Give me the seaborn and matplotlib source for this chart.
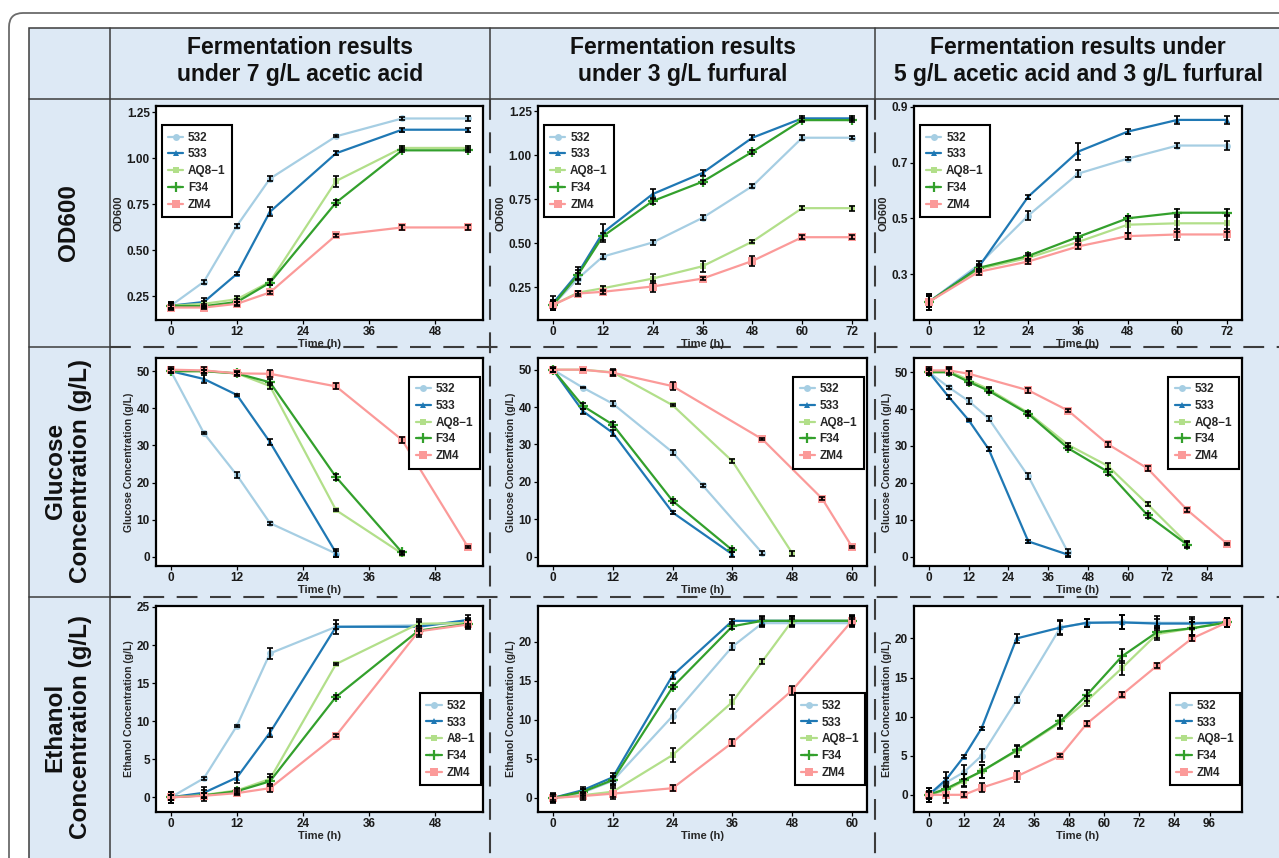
import matplotlib
matplotlib.use("Agg")
import matplotlib.pyplot as plt
import seaborn as sns
import pandas as pd
from matplotlib.patches import Rectangle, FancyBboxPatch
from matplotlib.lines import Line2D
from matplotlib.ticker import FormatStrFormatter

W, H = 1279, 858

STRAINS = ["532", "533", "AQ8-1", "F34", "ZM4"]
COLORS = ["#a6cee3", "#1f78b4", "#b2df8a", "#33a02c", "#fb9a99"]
MARKERS = ["o", "^", "s", "P", "s"]
LEGEND_LABELS = ["532", "533", "AQ8\u22121", "F34", "ZM4"]
LEGEND_LABELS_A8 = ["532", "533", "A8\u22121", "F34", "ZM4"]

COL_TITLES = ["Fermentation results\nunder 7 g/L acetic acid",
              "Fermentation results\nunder 3 g/L furfural",
              "Fermentation results under\n5 g/L acetic acid and 3 g/L furfural"]
ROW_TITLES = ["OD600", "Glucose\nConcentration (g/L)", "Ethanol\nConcentration (g/L)"]

# ---- OD600 ----
od_acetic_t = [0, 6, 12, 18, 30, 42, 54]
od_acetic = {"532": [0.20, 0.33, 0.634, 0.89, 1.12, 1.217, 1.217],
             "533": [0.20, 0.22, 0.373, 0.71, 1.028, 1.156, 1.156],
             "AQ8-1": [0.20, 0.21, 0.235, 0.33, 0.877, 1.057, 1.057],
             "F34": [0.20, 0.197, 0.22, 0.325, 0.76, 1.044, 1.044],
             "ZM4": [0.19, 0.19, 0.21, 0.272, 0.583, 0.625, 0.625]}
od_acetic_err = {"532": [0.02, 0.012, 0.012, 0.012, 0.006, 0.01, 0.015],
                 "533": [0.02, 0.02, 0.008, 0.025, 0.01, 0.012, 0.012],
                 "AQ8-1": [0.015, 0.015, 0.015, 0.015, 0.03, 0.012, 0.01],
                 "F34": [0.015, 0.01, 0.015, 0.012, 0.012, 0.01, 0.01],
                 "ZM4": [0.015, 0.01, 0.012, 0.01, 0.008, 0.015, 0.015]}

od_furfural_t = [0, 6, 12, 24, 36, 48, 60, 72]
od_furfural = {"532": [0.15, 0.30, 0.425, 0.505, 0.645, 0.825, 1.10, 1.10],
               "533": [0.16, 0.33, 0.56, 0.78, 0.90, 1.10, 1.21, 1.21],
               "AQ8-1": [0.15, 0.22, 0.245, 0.30, 0.37, 0.51, 0.70, 0.70],
               "F34": [0.15, 0.32, 0.54, 0.74, 0.85, 1.02, 1.20, 1.20],
               "ZM4": [0.15, 0.215, 0.225, 0.255, 0.30, 0.40, 0.535, 0.535]}
od_furfural_err = {"532": [0.03, 0.03, 0.015, 0.015, 0.015, 0.01, 0.015, 0.01],
                   "533": [0.04, 0.035, 0.05, 0.03, 0.015, 0.015, 0.015, 0.012],
                   "AQ8-1": [0.02, 0.01, 0.015, 0.025, 0.03, 0.01, 0.012, 0.015],
                   "F34": [0.03, 0.03, 0.02, 0.015, 0.01, 0.012, 0.012, 0.01],
                   "ZM4": [0.02, 0.015, 0.01, 0.03, 0.01, 0.03, 0.01, 0.01]}

od_mixed_t = [0, 12, 24, 36, 48, 60, 72]
od_mixed = {"532": [0.20, 0.333, 0.51, 0.66, 0.714, 0.761, 0.761],
            "533": [0.20, 0.325, 0.578, 0.739, 0.811, 0.853, 0.853],
            "AQ8-1": [0.20, 0.318, 0.358, 0.415, 0.477, 0.482, 0.482],
            "F34": [0.20, 0.322, 0.365, 0.433, 0.50, 0.52, 0.52],
            "ZM4": [0.20, 0.308, 0.345, 0.399, 0.436, 0.442, 0.442]}
od_mixed_err = {"532": [0.03, 0.015, 0.015, 0.013, 0.006, 0.01, 0.015],
                "533": [0.02, 0.01, 0.007, 0.03, 0.01, 0.015, 0.015],
                "AQ8-1": [0.02, 0.01, 0.01, 0.01, 0.03, 0.03, 0.03],
                "F34": [0.02, 0.01, 0.01, 0.015, 0.01, 0.015, 0.012],
                "ZM4": [0.03, 0.01, 0.01, 0.01, 0.01, 0.02, 0.02]}

# ---- glucose ----
glu_acetic_t = {"532": [0, 6, 12, 18, 30], "533": [0, 6, 12, 18, 30],
                "AQ8-1": [0, 6, 12, 18, 30, 42], "F34": [0, 6, 12, 18, 30, 42],
                "ZM4": [0, 6, 12, 18, 30, 42, 54]}
glu_acetic = {"532": [50, 33.3, 22.0, 9.1, 0.9],
              "533": [50, 47.9, 43.6, 30.9, 1.1],
              "AQ8-1": [50, 50, 49.4, 46.0, 12.6, 0.9],
              "F34": [50, 50, 49.4, 47.0, 21.5, 1.2],
              "ZM4": [50.4, 50.2, 49.4, 49.3, 45.9, 31.5, 2.6]}
glu_acetic_err = {"532": [0.5, 0.3, 0.8, 0.4, 0.8],
                  "533": [0.5, 1.0, 0.3, 0.8, 1.0],
                  "AQ8-1": [0.5, 0.4, 0.5, 0.8, 0.2, 0.4],
                  "F34": [0.5, 0.4, 0.5, 0.8, 0.7, 0.4],
                  "ZM4": [0.6, 0.8, 0.7, 0.9, 0.8, 0.9, 0.3]}

glu_furfural_t = {"532": [0, 6, 12, 24, 30, 42], "533": [0, 6, 12, 24, 36],
                  "AQ8-1": [0, 6, 12, 24, 36, 48], "F34": [0, 6, 12, 24, 36],
                  "ZM4": [0, 6, 12, 24, 42, 54, 60]}
glu_furfural = {"532": [50, 45.2, 40.9, 27.9, 19.1, 0.9],
                "533": [50, 38.9, 33.1, 11.8, 0.6],
                "AQ8-1": [50, 50, 49.3, 40.5, 25.5, 0.9],
                "F34": [50, 40.3, 35.3, 14.9, 1.7],
                "ZM4": [50, 50, 49.2, 45.6, 31.4, 15.5, 2.6]}
glu_furfural_err = {"532": [0.5, 0.2, 0.7, 0.7, 0.4, 0.5],
                    "533": [0.5, 0.7, 0.8, 0.3, 0.6],
                    "AQ8-1": [0.5, 0.2, 0.8, 0.2, 0.6, 0.7],
                    "F34": [0.5, 0.7, 0.6, 0.6, 0.6],
                    "ZM4": [0.6, 0.2, 0.8, 1.0, 0.2, 0.5, 0.3]}

glu_mixed_t = {"532": [0, 6, 12, 18, 30, 42], "533": [0, 6, 12, 18, 30, 42],
               "AQ8-1": [0, 6, 12, 18, 30, 42, 54, 66, 78],
               "F34": [0, 6, 12, 18, 30, 42, 54, 66, 78],
               "ZM4": [0, 6, 12, 30, 42, 54, 66, 78, 90]}
glu_mixed = {"532": [50, 45.9, 42.2, 37.5, 21.8, 1.1],
             "533": [50, 43.3, 37.0, 29.2, 4.1, 0.5],
             "AQ8-1": [50, 50.3, 47.9, 45.4, 39.0, 30.3, 24.6, 14.2, 3.5],
             "F34": [50, 50, 47.4, 45.0, 38.7, 29.4, 23.0, 11.2, 3.2],
             "ZM4": [50.5, 50.5, 49.6, 45.1, 39.6, 30.5, 23.9, 12.6, 3.5]}
glu_mixed_err = {"532": [0.5, 0.4, 0.7, 0.7, 0.8, 1.0],
                 "533": [0.5, 0.5, 0.3, 0.6, 0.5, 0.5],
                 "AQ8-1": [0.8, 0.8, 0.8, 0.7, 0.5, 0.6, 0.8, 0.6, 0.8],
                 "F34": [0.8, 0.8, 0.9, 0.7, 0.5, 0.6, 0.8, 0.7, 0.8],
                 "ZM4": [0.8, 0.8, 0.8, 0.7, 0.5, 0.7, 0.7, 0.6, 0.3]}

# ---- ethanol ----
eth_acetic_t = [0, 6, 12, 18, 30, 45, 54]
eth_acetic = {"532": [0, 2.5, 9.4, 18.9, 22.4, 22.6, 23.0],
              "533": [0, 0.6, 2.6, 8.5, 22.4, 22.4, 23.3],
              "AQ8-1": [0, 0.3, 0.9, 2.4, 17.5, 22.8, 22.9],
              "F34": [0, 0.25, 0.8, 2.1, 13.2, 21.9, 22.8],
              "ZM4": [0, 0.2, 0.55, 1.2, 8.1, 21.8, 22.7]}
eth_acetic_err = {"532": [0.3, 0.2, 0.1, 0.7, 0.3, 0.5, 0.5],
                  "533": [0.7, 0.7, 0.7, 0.6, 0.9, 0.6, 0.6],
                  "AQ8-1": [0.3, 0.3, 0.3, 0.6, 0.15, 0.6, 0.5],
                  "F34": [0.3, 0.3, 0.3, 0.6, 0.3, 0.6, 0.5],
                  "ZM4": [0.7, 0.7, 0.3, 0.5, 0.2, 0.7, 0.6]}

eth_furfural_t = {"532": [0, 6, 12, 24, 36, 42, 48, 60],
                  "533": [0, 6, 12, 24, 36, 42, 48, 60],
                  "AQ8-1": [0, 6, 12, 24, 36, 42, 48, 60],
                  "F34": [0, 6, 12, 24, 36, 42, 48, 60],
                  "ZM4": [0, 6, 12, 24, 36, 48, 60]}
eth_furfural = {"532": [0, 0.7, 2.2, 10.5, 19.4, 22.4, 22.4, 22.4],
                "533": [0, 1.0, 2.65, 15.7, 22.7, 22.7, 22.7, 22.7],
                "AQ8-1": [0, 0.35, 0.8, 5.5, 12.3, 17.5, 22.7, 22.7],
                "F34": [0, 0.8, 2.3, 14.2, 22.0, 22.7, 22.7, 22.7],
                "ZM4": [0, 0.25, 0.55, 1.25, 7.1, 13.8, 22.7]}
eth_furfural_err = {"532": [0.5, 0.4, 0.5, 0.9, 0.4, 0.5, 0.5, 0.5],
                    "533": [0.5, 0.4, 0.5, 0.5, 0.2, 0.5, 0.5, 0.5],
                    "AQ8-1": [0.3, 0.3, 0.7, 0.9, 0.9, 0.3, 0.6, 0.6],
                    "F34": [0.5, 0.4, 0.5, 0.3, 0.3, 0.6, 0.6, 0.6],
                    "ZM4": [0.6, 0.5, 0.7, 0.4, 0.5, 0.6, 0.7]}

eth_mixed_t = [0, 6, 12, 18, 30, 45, 54, 66, 78, 90, 102]
eth_mixed = {"532": [0, 1.6, 2.9, 5.0, 12.1, 21.4, 22.0, 22.05, 22.0, 22.0, 22.05],
             "533": [0, 2.0, 4.9, 8.5, 20.0, 21.4, 22.0, 22.05, 21.9, 21.9, 22.05],
             "AQ8-1": [0, 0.6, 1.8, 3.0, 5.6, 9.25, 12.0, 16.2, 20.55, 21.3, 22.05],
             "F34": [0, 0.8, 1.9, 3.0, 5.7, 9.4, 12.75, 17.7, 20.8, 21.3, 22.05],
             "ZM4": [0, 0, 0, 0.9, 2.35, 5.0, 9.1, 12.8, 16.5, 20.0, 22.05]}
eth_mixed_err = {"532": [0.9, 0.5, 0.9, 0.8, 0.4, 0.9, 0.5, 0.9, 0.9, 0.8, 0.6],
                 "533": [0.9, 0.9, 0.2, 0.2, 0.6, 0.8, 0.5, 0.9, 0.6, 0.6, 0.6],
                 "AQ8-1": [0.5, 0.8, 0.8, 0.8, 0.7, 0.8, 0.7, 0.9, 0.8, 0.8, 0.6],
                 "F34": [0.5, 0.8, 0.8, 0.8, 0.7, 0.8, 0.7, 0.9, 0.8, 0.8, 0.6],
                 "ZM4": [0.4, 1.0, 0.3, 0.6, 0.7, 0.2, 0.3, 0.3, 0.3, 0.3, 0.6]}


def long_df(times, vals, errs):
    rows = []
    for s in STRAINS:
        t = times[s] if isinstance(times, dict) else times
        for ti, v, e in zip(t, vals[s], errs[s]):
            rows.append((s, ti, v, e))
    return pd.DataFrame(rows, columns=["strain", "time", "value", "err"])


def px_rect(x0, y0, x1, y1):
    return [x0 / W, 1 - y1 / H, (x1 - x0) / W, (y1 - y0) / H]


def style_marker(line, strain):
    # small filled symbols, thin plus for F34, bigger square for ZM4
    if strain == "F34":
        line.set_marker("+")
        line.set_markersize(7)
        line.set_markeredgewidth(1.6)
        line.set_markeredgecolor(line.get_color())
    elif strain == "ZM4":
        line.set_markersize(6)
    elif strain == "AQ8-1":
        line.set_markersize(4.5)


sns.set_theme(style="white")
plt.rcParams["font.family"] = ["Liberation Sans", "DejaVu Sans"]
plt.rcParams["font.weight"] = "bold"
plt.rcParams["axes.labelweight"] = "bold"

fig = plt.figure(figsize=(W / 100, H / 100), dpi=100)

# background table drawn in pixel coordinates
bg = fig.add_axes([0, 0, 1, 1])
bg.set_xlim(0, W)
bg.set_ylim(H, 0)
bg.axis("off")
bg.add_patch(FancyBboxPatch((9, 13), 1400, 1000, boxstyle="round,pad=0,rounding_size=14",
                            fc="white", ec="#6b6b6b", lw=1.3))
BLUE = "#dde9f5"
LINE = "#3c3c3c"
bg.add_patch(Rectangle((29, 28), 1400, 1000, fc=BLUE, ec=LINE, lw=1.1))
bg.plot([29, W + 5], [99, 99], color=LINE, lw=1.1)
bg.plot([110, 110], [28, H + 5], color=LINE, lw=1.1)
for x in (490, 875):
    bg.plot([x, x], [28, 99], color=LINE, lw=1.1)
    bg.plot([x, x], [99, H + 5], color=LINE, lw=1.5, ls=(0, (10, 6)))
for y in (347, 597):
    bg.plot([29, 110], [y, y], color=LINE, lw=1.1)
    bg.plot([110, W + 5], [y, y], color=LINE, lw=1.5, ls=(0, (10, 6)))

for x, t in zip((300, 683, 1078), COL_TITLES):
    bg.text(x, 61, t, ha="center", va="center", fontsize=16.5, fontweight="bold",
            linespacing=1.2, color="#111111")
for y, t in zip((223, 471, 727), ROW_TITLES):
    bg.text(68, y, t, ha="center", va="center", rotation=90, fontsize=17.5,
            fontweight="bold", linespacing=1.15, color="#111111", multialignment="center")

col_x = [(156, 483), (538, 867), (914, 1242)]
row_y = [(106, 320), (358, 566), (606, 812)]

panels = [
    [(long_df(od_acetic_t, od_acetic, od_acetic_err), [0, 12, 24, 36, 48], [0.25, 0.5, 0.75, 1.0, 1.25], "%.2f", "OD600"),
     (long_df(od_furfural_t, od_furfural, od_furfural_err), [0, 12, 24, 36, 48, 60, 72], [0.25, 0.5, 0.75, 1.0, 1.25], "%.2f", "OD600"),
     (long_df(od_mixed_t, od_mixed, od_mixed_err), [0, 12, 24, 36, 48, 60, 72], [0.3, 0.5, 0.7, 0.9], "%.1f", "OD600")],
    [(long_df(glu_acetic_t, glu_acetic, glu_acetic_err), [0, 12, 24, 36, 48], [0, 10, 20, 30, 40, 50], "%d", "Glucose Concentration (g/L)"),
     (long_df(glu_furfural_t, glu_furfural, glu_furfural_err), [0, 12, 24, 36, 48, 60], [0, 10, 20, 30, 40, 50], "%d", "Glucose Concentration (g/L)"),
     (long_df(glu_mixed_t, glu_mixed, glu_mixed_err), [0, 12, 24, 36, 48, 60, 72, 84], [0, 10, 20, 30, 40, 50], "%d", "Glucose Concentration (g/L)")],
    [(long_df(eth_acetic_t, eth_acetic, eth_acetic_err), [0, 12, 24, 36, 48], [0, 5, 10, 15, 20, 25], "%d", "Ethanol Concentration (g/L)"),
     (long_df(eth_furfural_t, eth_furfural, eth_furfural_err), [0, 12, 24, 36, 48, 60], [0, 5, 10, 15, 20], "%d", "Ethanol Concentration (g/L)"),
     (long_df(eth_mixed_t, eth_mixed, eth_mixed_err), [0, 12, 24, 36, 48, 60, 72, 84, 96], [0, 5, 10, 15, 20], "%d", "Ethanol Concentration (g/L)")],
]

legend_pos = [("upper left", (0.017, 0.91)), ("upper right", (0.99, 0.91)), ("lower right", (0.995, 0.13))]
palette = dict(zip(STRAINS, COLORS))
markers = dict(zip(STRAINS, MARKERS))

for r in range(3):
    for c in range(3):
        df, xt, yt, yfmt, ylab = panels[r][c]
        x0, x1 = col_x[c]
        y0, y1 = row_y[r]
        ax = fig.add_axes(px_rect(x0, y0, x1, y1))
        ax.set_facecolor("white")
        sns.lineplot(data=df, x="time", y="value", hue="strain", style="strain",
                     hue_order=STRAINS, style_order=STRAINS, palette=palette,
                     markers=markers, dashes=False, errorbar=None, linewidth=1.6,
                     markersize=5, markeredgewidth=0, legend=False, ax=ax)
        for line, s in zip(ax.lines, STRAINS):
            style_marker(line, s)
        ax.errorbar(df["time"], df["value"], yerr=df["err"], fmt="none", ecolor="black",
                    elinewidth=1.3, capsize=2, capthick=1.2, zorder=4)

        lo = (df["value"] - df["err"]).min()
        hi = (df["value"] + df["err"]).max()
        pad = 0.05 * (hi - lo)
        ax.set_ylim(lo - pad, hi + pad)
        tmax = df["time"].max()
        ax.set_xlim(-0.05 * tmax, 1.05 * tmax)
        ax.set_xticks(xt)
        ax.set_yticks(yt)
        ax.yaxis.set_major_formatter(FormatStrFormatter(yfmt))
        ax.tick_params(axis="both", direction="out", length=3, width=0.9, color="black",
                       labelsize=8.5, labelcolor="#1a1a1a", pad=1.5, bottom=True, left=True)
        for sp in ax.spines.values():
            sp.set_color("black")
            sp.set_linewidth(1.6)
        ax.set_xlabel("Time (h)", fontsize=8, labelpad=0.5)
        ax.set_ylabel(ylab, fontsize=8 if r == 0 else 7.5, labelpad=2)

        labels = LEGEND_LABELS_A8 if (r == 2 and c == 0) else LEGEND_LABELS
        handles = []
        for s, col, m in zip(STRAINS, COLORS, MARKERS):
            h = Line2D([], [], color=col, marker=m, lw=1.6, mew=0, markersize=5)
            style_marker(h, s)
            handles.append(h)
        loc, anchor = legend_pos[r]
        leg = ax.legend(handles, labels, loc=loc, bbox_to_anchor=anchor, frameon=True,
                        fancybox=False, edgecolor="black", framealpha=1, fontsize=8.5,
                        handlelength=1.3, handletextpad=0.4, labelspacing=0.4,
                        borderpad=0.55, borderaxespad=0)
        leg.get_frame().set_linewidth(1.5)
        for txt in leg.get_texts():
            txt.set_fontweight("bold")

fig.savefig("out.png", dpi=100)
